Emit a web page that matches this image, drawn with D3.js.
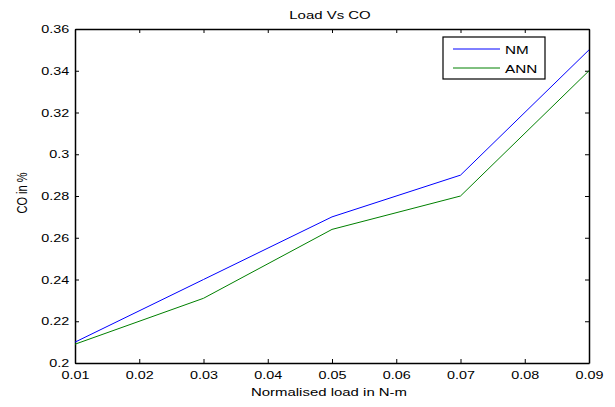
<!DOCTYPE html>
<html>
<head>
<meta charset="utf-8">
<style>
body { margin: 0; background: #fff; }
text { font-family: "Liberation Sans", Arial, sans-serif; fill: #000; }
</style>
</head>
<body>
<script src="https://cdn.jsdelivr.net/npm/d3@7"></script>
<script>
var loads = [0.01, 0.03, 0.05, 0.07, 0.09];
var nmValues = [0.21, 0.24, 0.27, 0.29, 0.35];
var annValues = [0.209, 0.231, 0.264, 0.28, 0.34];
var xTicks = [0.01, 0.02, 0.03, 0.04, 0.05, 0.06, 0.07, 0.08, 0.09];
var yTicks = [0.2, 0.22, 0.24, 0.26, 0.28, 0.3, 0.32, 0.34, 0.36];

var width = 615, height = 407;
var margin = {top: 29, right: 26, bottom: 44, left: 75};
var w = width - margin.left - margin.right,
    h = height - margin.top - margin.bottom;

var svg = d3.select("body").append("svg")
    .attr("width", width)
    .attr("height", height);

var x = d3.scaleLinear().domain([0.01, 0.09]).range([0, w]);
var y = d3.scaleLinear().domain([0.2, 0.36]).range([h, 0]);

var g = svg.append("g").attr("transform", "translate(" + margin.left + "," + margin.top + ")");

var fmt = function(d) { return String(+d.toFixed(2)); };

// axes with inward ticks, on all four sides
var axBottom = g.append("g").attr("transform", "translate(0," + h + ")")
    .call(d3.axisBottom(x).tickValues(xTicks).tickSizeInner(-4).tickSizeOuter(0).tickPadding(8).tickFormat(fmt));
var axLeft = g.append("g")
    .call(d3.axisLeft(y).tickValues(yTicks).tickSizeInner(-4).tickSizeOuter(0).tickPadding(4.6).tickFormat(fmt));
var axTop = g.append("g")
    .call(d3.axisTop(x).tickValues(xTicks).tickSizeInner(-4).tickSizeOuter(0).tickFormat(""));
var axRight = g.append("g").attr("transform", "translate(" + w + ",0)")
    .call(d3.axisRight(y).tickValues(yTicks).tickSizeInner(-4).tickSizeOuter(0).tickFormat(""));

[axBottom, axLeft, axTop, axRight].forEach(function(a) {
  a.select(".domain").attr("stroke", "#000").attr("stroke-width", 1.5);
  a.selectAll(".tick line").attr("stroke", "#000");
  a.selectAll("text")
      .style("font-size", "11.5px")
      .style("font-family", "Liberation Sans, Arial, sans-serif")
      .attr("transform", "scale(1.25,1)");
});

var line = d3.line().x(function(d) { return x(d[0]); }).y(function(d) { return y(d[1]); });

g.append("path")
    .datum(d3.zip(loads, nmValues))
    .attr("fill", "none").attr("stroke", "#0000ff").attr("stroke-width", 1)
    .attr("d", line);
g.append("path")
    .datum(d3.zip(loads, annValues))
    .attr("fill", "none").attr("stroke", "#008000").attr("stroke-width", 1)
    .attr("d", line);

// title and labels (the original picture is stretched a bit sideways)
svg.append("text").attr("transform", "translate(330,19) scale(1.3,1)")
    .attr("text-anchor", "middle").style("font-size", "11.5px").text("Load Vs CO");
svg.append("text").attr("transform", "translate(329,395.5) scale(1.3,1)")
    .attr("text-anchor", "middle").style("font-size", "11.5px").text("Normalised load in N-m");
svg.append("text").attr("transform", "translate(26.5,193) scale(1.25,1) rotate(-90)")
    .attr("text-anchor", "middle").style("font-size", "11px").text("CO in %");

// legend
var legend = svg.append("g").attr("transform", "translate(443,37)");
legend.append("rect").attr("width", 102).attr("height", 42)
    .attr("fill", "#fff").attr("stroke", "#000").attr("stroke-width", 1.2);
var series = [{name: "NM", color: "#0000ff"}, {name: "ANN", color: "#008000"}];
series.forEach(function(s, i) {
  var yy = 12 + i * 19;
  legend.append("line").attr("x1", 10).attr("x2", 57).attr("y1", yy).attr("y2", yy)
      .attr("stroke", s.color);
  legend.append("text").attr("transform", "translate(62," + (yy + 5) + ") scale(1.33,1)")
      .style("font-size", "11.5px").text(s.name);
});
</script>
</body>
</html>
